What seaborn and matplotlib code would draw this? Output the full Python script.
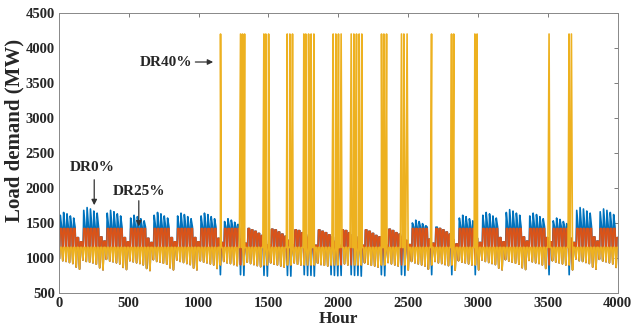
import numpy as np
import pandas as pd
import seaborn as sns
import matplotlib.pyplot as plt

# ---------------- data ----------------
# DR0% daily peak load (MW), one value per day, 7 days per week (Mon..Sun)
dr0_peak = [
    1610, 1650, 1630, 1600, 1570, 1290, 1230,
    1680, 1720, 1700, 1670, 1640, 1300, 1240,
    1640, 1680, 1660, 1630, 1600, 1290, 1230,
    1570, 1610, 1590, 1560, 1530, 1280, 1220,
    1610, 1650, 1630, 1600, 1570, 1290, 1230,
    1600, 1640, 1620, 1590, 1560, 1290, 1230,
    1600, 1640, 1620, 1590, 1560, 1280, 1220,
    1520, 1560, 1540, 1510, 1480, 1270, 1210,
    1420, 1400, 1380, 1350, 1320, 1250, 1190,
    1410, 1400, 1370, 1340, 1310, 1250, 1190,
    1400, 1390, 1360, 1330, 1300, 1240, 1180,
    1400, 1380, 1360, 1330, 1300, 1240, 1180,
    1400, 1390, 1360, 1330, 1300, 1240, 1180,
    1400, 1380, 1350, 1320, 1300, 1240, 1180,
    1410, 1390, 1360, 1340, 1310, 1250, 1190,
    1500, 1540, 1520, 1490, 1460, 1270, 1210,
    1440, 1420, 1400, 1370, 1340, 1260, 1200,
    1570, 1610, 1590, 1560, 1530, 1280, 1220,
    1610, 1650, 1630, 1600, 1570, 1290, 1230,
    1650, 1690, 1670, 1640, 1610, 1300, 1240,
    1600, 1640, 1620, 1590, 1560, 1290, 1230,
    1530, 1570, 1550, 1520, 1490, 1280, 1220,
    1680, 1720, 1700, 1670, 1640, 1300, 1240,
    1660, 1700, 1680, 1650, 1620, 1290,
]
# DR0% daily night trough (MW)
dr0_trough = [
    990, 960, 950, 935, 920, 870, 840,
    970, 950, 940, 930, 910, 860, 830,
    980, 955, 945, 930, 915, 865, 835,
    960, 945, 930, 920, 900, 850, 820,
    975, 950, 940, 925, 910, 860, 830,
    970, 950, 935, 920, 905, 855, 830,
    960, 940, 930, 915, 900, 850, 760,
    950, 930, 920, 905, 890, 760, 750,
    940, 920, 905, 890, 875, 750, 740,
    930, 910, 900, 885, 870, 750, 740,
    930, 910, 900, 760, 750, 750, 740,
    925, 905, 895, 885, 760, 750, 745,
    750, 915, 900, 760, 750, 750, 740,
    930, 910, 895, 885, 870, 760, 745,
    935, 915, 900, 885, 760, 750, 830,
    950, 930, 915, 900, 885, 840, 760,
    950, 930, 920, 905, 890, 760, 825,
    960, 940, 930, 915, 900, 760, 830,
    970, 950, 935, 920, 905, 855, 830,
    975, 955, 940, 925, 910, 860, 835,
    965, 945, 930, 920, 900, 850, 760,
    960, 940, 930, 915, 900, 760, 830,
    985, 960, 950, 935, 920, 870, 840,
    980, 955, 945, 930, 915, 865,
]
# evening shoulder level of DR0% after the daily peak (MW)
dr0_shoulder = 1440
# days on which DR40% fills the night valley, and the filled level
shift_days = [48, 54, 55, 61, 62, 68, 69, 73, 74, 75, 76, 81, 82, 83, 84,
              87, 88, 89, 90, 96, 97, 102, 103, 111, 117, 124, 146, 152]
shift_trough = 900
# DR caps (MW)
dr25_cap = 1420
dr40_cap = 1150
# hours with DR40% load spikes and their level
spike_hours = [1157, 1300, 1314, 1329, 1467, 1481, 1501, 1634, 1653, 1672,
               1753, 1767, 1787, 1805, 1825, 1963, 1982, 2001, 2020, 2092,
               2111, 2130, 2149, 2168, 2309, 2326, 2345, 2452, 2469, 2492,
               2667, 2810, 2826, 2977, 2993, 3508, 3651, 3668]
spike_level = 4200

series_names = ["DR0%", "DR25%", "DR40%"]
colors = ["#0072BD", "#D95319", "#EDB120"]

# ---------------- build long table ----------------
dr40_trough = list(dr0_trough)
for d in shift_days:
    dr40_trough[d] = shift_trough

curves = {name: {} for name in series_names}
for d in range(len(dr0_peak)):
    h_lo, h_pk, h_sh = 24 * d + 4, 24 * d + 10, 24 * d + 20
    pk = dr0_peak[d]
    sh = min(pk, dr0_shoulder)
    curves["DR0%"].update({h_lo: dr0_trough[d], h_pk: pk, h_sh: sh})
    curves["DR25%"].update({h_lo: dr40_trough[d], h_pk: min(pk, dr25_cap),
                            h_sh: min(sh, dr25_cap)})
    curves["DR40%"].update({h_lo: dr40_trough[d], h_pk: min(pk, dr40_cap),
                            h_sh: min(sh, dr40_cap)})
for h in spike_hours:
    curves["DR40%"][h] = spike_level

rows = []
for name in series_names:
    for h in sorted(curves[name]):
        rows.append((h, curves[name][h], name))
df = pd.DataFrame(rows, columns=["Hour", "Load", "Series"])

# ---------------- plot ----------------
sns.set_theme(style="white")
plt.rcParams['font.family'] = ['Liberation Serif', 'DejaVu Serif']
plt.rcParams['font.weight'] = 'bold'

fig = plt.figure(figsize=(6.33, 3.34), dpi=100)
ax = fig.add_axes([0.093, 0.123, 0.883, 0.838])

sns.lineplot(data=df, x="Hour", y="Load", hue="Series", hue_order=series_names,
             palette=colors, estimator=None, sort=True, linewidth=1.2,
             legend=False, ax=ax)

ax.set_xlim(0, 4000)
ax.set_ylim(500, 4500)
ax.set_xticks(np.arange(0, 4001, 500))
ax.set_yticks(np.arange(500, 4501, 500))
ax.tick_params(direction="in", length=3, width=0.6, color="#666666",
               top=True, right=True, labelsize=10.5, pad=3)
for lab in ax.get_xticklabels() + ax.get_yticklabels():
    lab.set_fontweight("bold")
for sp in ax.spines.values():
    sp.set_color("#888888")
    sp.set_linewidth(0.7)

ax.set_xlabel("Hour", fontsize=12.5, fontweight="bold", labelpad=1)
ax.set_ylabel("Load demand (MW)", fontsize=15, fontweight="bold")
ax.yaxis.set_label_coords(-0.062, 0.58)

arrow = dict(arrowstyle="-|>", color="#333333", lw=0.9, mutation_scale=8)
ax.text(236, 2290, "DR0%", ha="center", va="center", fontsize=11, fontweight="bold")
ax.annotate("", xy=(253, 1714), xytext=(253, 2157), arrowprops=arrow)
ax.text(572, 1943, "DR25%", ha="center", va="center", fontsize=11, fontweight="bold")
ax.annotate("", xy=(572, 1410), xytext=(572, 1857), arrowprops=arrow)
ax.text(952, 3800, "DR40%", ha="right", va="center", fontsize=11, fontweight="bold")
ax.annotate("", xy=(1124, 3800), xytext=(957, 3800), arrowprops=arrow)

fig.savefig("out.png", dpi=100)
